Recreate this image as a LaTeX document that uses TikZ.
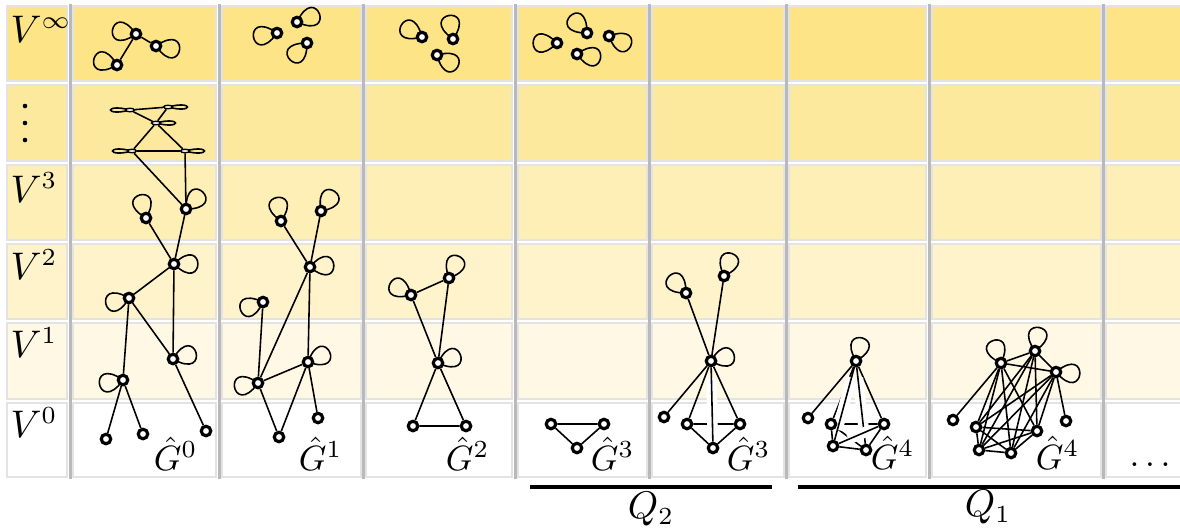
\documentclass[tikz,border=0pt]{standalone}
\usepackage{tikz}
\usetikzlibrary{
    shapes.geometric,
    positioning
}
\pgfdeclarelayer{cells}
\pgfdeclarelayer{links}
\pgfsetlayers{cells,links,main}

\definecolor{rowA}{RGB}{253,228,135}
\definecolor{rowB}{RGB}{253,233,158}
\definecolor{rowC}{RGB}{254,239,182}
\definecolor{rowD}{RGB}{254,243,202}
\definecolor{rowE}{RGB}{255,248,228}

\tikzset{
    vtx/.style={
        circle, draw, fill=white,
        line width=0.9pt, minimum size=0.95mm, inner sep=0pt
    },
    flat/.style={
        ellipse, draw, fill=white,
        line width=0.4pt, minimum width=0.9mm,
        minimum height=0.35mm, inner sep=0pt
    }
}

% lazo del vertice #1 hacia el angulo #2
\newcommand\vloop[2]{%
    \draw (#1.center) .. controls +({#2+45}:45) and +({#2-45}:45) .. (#1.center);%
}
% lazo aplanado, #2 = -1 (izquierda) o 1 (derecha)
\newcommand\flatloop[2]{%
    \draw (#1.center) .. controls +(#2*26,7) and +(#2*26,-7) .. (#1.center);%
}

\begin{document}
\begin{tikzpicture}[
    x=0.1mm, y=0.1mm,
    cell/.style={draw=gray!22, line width=0.2mm},
    sep/.style={draw=gray!55, line width=0.3mm},
    vlbl/.style={font=\fontsize{10.5}{12}\selectfont, inner sep=0pt},
    glbl/.style={inner sep=0pt, anchor=base east},
    over/.style={preaction={draw=white, line width=3pt, shorten <=3pt, shorten >=3pt}},
    bar/.style={line width=0.4mm}
]
    \useasboundingbox (0,0) rectangle (1180,-527);

    % Celdas
    \begin{pgfonlayer}{cells}
        \foreach \ya/\yb/\tint in {6/81/rowA, 85/161/rowB, 165/240/rowC,
                                   244/319/rowD, 323/399/rowE, 403/477/white}
            \foreach \xa/\xb in {7/67, 73/216, 222/361, 366/512, 518/647,
                                 652/784, 789/926, 932/1101, 1106/1200}
                \draw[cell, fill=\tint] (\xa,-\ya) rectangle (\xb,-\yb);
        \foreach \xs in {70, 219, 363.5, 515, 649.5, 786.5, 929, 1103.5}
            \draw[sep] (\xs,-4) -- (\xs,-479);
    \end{pgfonlayer}

    % Etiquetas de filas
    \node[vlbl, anchor=base west] (vinf)  at (10,-42)  {$V^{\infty}$};
    \node[vlbl, anchor=base west] (vthr)  at (10,-202) {$V^3$};
    \node[vlbl, anchor=base west] (vtwo)  at (10,-279) {$V^2$};
    \node[vlbl, anchor=base west] (vone)  at (10,-357) {$V^1$};
    \node[vlbl, anchor=base west] (vzer)  at (10,-437) {$V^0$};
    \foreach \yd in {106, 123, 140}
        \fill (25,-\yd) circle (2.3);

    % Columna G^0
    \node[vtx]  (g0p) at (136,-34)  {};
    \node[vtx]  (g0q) at (156,-46)  {};
    \node[vtx]  (g0r) at (117,-65)  {};
    \node[flat] (g0s) at (130,-110) {};
    \node[flat] (g0t) at (168,-107) {};
    \node[flat] (g0u) at (156,-123) {};
    \node[flat] (g0v) at (132,-151) {};
    \node[flat] (g0w) at (185,-151) {};
    \node[vtx]  (g0a) at (146,-218) {};
    \node[vtx]  (g0b) at (186,-209) {};
    \node[vtx]  (g0c) at (174,-264) {};
    \node[vtx]  (g0d) at (129,-298) {};
    \node[vtx]  (g0e) at (123,-380) {};
    \node[vtx]  (g0f) at (173,-359) {};
    \node[vtx]  (g0g) at (106,-439) {};
    \node[vtx]  (g0h) at (143,-434) {};
    \node[vtx]  (g0i) at (206,-431) {};

    % Columna G^1
    \node[vtx] (g1p) at (277,-33)  {};
    \node[vtx] (g1q) at (297,-22)  {};
    \node[vtx] (g1r) at (307,-43)  {};
    \node[vtx] (g1a) at (281,-221) {};
    \node[vtx] (g1b) at (321,-211) {};
    \node[vtx] (g1c) at (310,-267) {};
    \node[vtx] (g1d) at (263,-302) {};
    \node[vtx] (g1e) at (308,-362) {};
    \node[vtx] (g1f) at (258,-383) {};
    \node[vtx] (g1g) at (279,-437) {};
    \node[vtx] (g1h) at (318,-418) {};

    % Columna G^2
    \node[vtx] (g2p) at (422,-37)  {};
    \node[vtx] (g2q) at (453,-39)  {};
    \node[vtx] (g2r) at (437,-55)  {};
    \node[vtx] (g2a) at (411,-295) {};
    \node[vtx] (g2b) at (449,-278) {};
    \node[vtx] (g2c) at (438,-363) {};
    \node[vtx] (g2d) at (413,-426) {};
    \node[vtx] (g2e) at (466,-426) {};

    % Columna G^3 (Q_2)
    \node[vtx] (g3p) at (557,-43)  {};
    \node[vtx] (g3q) at (587,-33)  {};
    \node[vtx] (g3r) at (609,-36)  {};
    \node[vtx] (g3s) at (577,-54)  {};
    \node[vtx] (g3a) at (551,-424) {};
    \node[vtx] (g3b) at (604,-424) {};
    \node[vtx] (g3c) at (577,-448) {};

    \node[vtx] (h3a) at (686,-293) {};
    \node[vtx] (h3b) at (724,-276) {};
    \node[vtx] (h3c) at (711,-361) {};
    \node[vtx] (h3d) at (664,-417) {};
    \node[vtx] (h3e) at (687,-424) {};
    \node[vtx] (h3f) at (740,-424) {};
    \node[vtx] (h3g) at (713,-448) {};

    % Columna G^4 (Q_1)
    \node[vtx] (g4a) at (856,-361) {};
    \node[vtx] (g4b) at (808,-418) {};
    \node[vtx] (g4c) at (831,-424) {};
    \node[vtx] (g4d) at (884,-424) {};
    \node[vtx] (g4e) at (833,-446) {};
    \node[vtx] (g4f) at (866,-450) {};

    \node[vtx] (h4a) at (1001,-363) {};
    \node[vtx] (h4b) at (1035,-351) {};
    \node[vtx] (h4c) at (1056,-372) {};
    \node[vtx] (h4d) at (953,-420)  {};
    \node[vtx] (h4e) at (976,-427)  {};
    \node[vtx] (h4f) at (979,-450)  {};
    \node[vtx] (h4g) at (1011,-453) {};
    \node[vtx] (h4h) at (1037,-431) {};
    \node[vtx] (h4i) at (1066,-421) {};

    % Aristas y lazos
    \begin{pgfonlayer}{links}
    \begin{scope}[line width=0.45pt]
        \draw (g0p) -- (g0q) (g0p) -- (g0r);
        \draw (g0s) -- (g0t) (g0s) -- (g0u) (g0t) -- (g0u)
              (g0u) -- (g0v) (g0u) -- (g0w) (g0v) -- (g0w)
              (g0v) -- (g0b) (g0w) -- (g0b);
        \draw (g0a) -- (g0c) (g0b) -- (g0c) (g0c) -- (g0d)
              (g0d) -- (g0e) (g0d) -- (g0f) (g0c) -- (g0f)
              (g0e) -- (g0g) (g0e) -- (g0h) (g0f) -- (g0i);
        \vloop{g0p}{170} \vloop{g0q}{-10} \vloop{g0r}{165}
        \flatloop{g0s}{-1} \flatloop{g0t}{1} \flatloop{g0u}{1}
        \flatloop{g0v}{-1} \flatloop{g0w}{1}
        \vloop{g0a}{105} \vloop{g0b}{45} \vloop{g0c}{0}
        \vloop{g0d}{195} \vloop{g0e}{190} \vloop{g0f}{15}

        \draw (g1a) -- (g1c) (g1b) -- (g1c) (g1c) -- (g1f)
              (g1c) -- (g1e) (g1d) -- (g1f) (g1f) -- (g1e)
              (g1f) -- (g1g) (g1e) -- (g1g) (g1e) -- (g1h);
        \vloop{g1p}{190} \vloop{g1q}{20} \vloop{g1r}{225}
        \vloop{g1a}{100} \vloop{g1b}{55} \vloop{g1c}{5}
        \vloop{g1d}{200} \vloop{g1e}{25} \vloop{g1f}{190}

        \draw (g2a) -- (g2b) (g2a) -- (g2c) (g2b) -- (g2c)
              (g2c) -- (g2d) (g2c) -- (g2e) (g2d) -- (g2e);
        \vloop{g2p}{150} \vloop{g2q}{100} \vloop{g2r}{-30}
        \vloop{g2a}{150} \vloop{g2b}{65} \vloop{g2c}{20}

        \draw (g3a) -- (g3b) (g3a) -- (g3c) (g3b) -- (g3c);
        \vloop{g3p}{180} \vloop{g3q}{135} \vloop{g3r}{-25} \vloop{g3s}{-10}

        \draw (h3a) -- (h3c) (h3b) -- (h3c) (h3c) -- (h3d)
              (h3c) -- (h3e) (h3c) -- (h3f) (h3e) -- (h3g)
              (h3f) -- (h3g) (h3e) -- (h3f);
        \draw[over] (h3c) -- (h3g);
        \vloop{h3a}{135} \vloop{h3b}{70} \vloop{h3c}{15}

        \draw (g4a) -- (g4b) (g4a) -- (g4c) (g4a) -- (g4d)
              (g4c) -- (g4d) (g4c) -- (g4e) (g4e) -- (g4f)
              (g4f) -- (g4d) (g4c) -- (g4f);
        \draw[over] (g4a) -- (g4e);
        \draw[over] (g4a) -- (g4f);
        \draw[over] (g4e) -- (g4d);
        \vloop{g4a}{75}

        \draw (h4a) -- (h4b) (h4b) -- (h4c) (h4a) -- (h4c)
              (h4a) -- (h4d) (h4c) -- (h4i);
        \foreach \tp in {h4a, h4b, h4c}
            \foreach \bt in {h4e, h4f, h4g, h4h}
                \draw (\tp) -- (\bt);
        \draw (h4e) -- (h4f) (h4e) -- (h4g) (h4e) -- (h4h)
              (h4f) -- (h4g) (h4f) -- (h4h) (h4g) -- (h4h);
        \vloop{h4a}{110} \vloop{h4b}{80} \vloop{h4c}{-5}
    \end{scope}
    \end{pgfonlayer}

    % Nombres de los grafos
    \node[glbl] (lg0) at (198,-470)  {$\hat{G}^0$};
    \node[glbl] (lg1) at (343,-470)  {$\hat{G}^1$};
    \node[glbl] (lg2) at (490,-470)  {$\hat{G}^2$};
    \node[glbl] (lg3) at (635,-470)  {$\hat{G}^3$};
    \node[glbl] (lh3) at (771,-470)  {$\hat{G}^3$};
    \node[glbl] (lg4) at (915,-469)  {$\hat{G}^4$};
    \node[glbl] (lh4) at (1080,-469) {$\hat{G}^4$};
    \node[anchor=base, inner sep=0pt] (more) at (1150,-466) {$\dots$};

    % Grupos
    \draw[bar] (530,-487) -- (772,-487);
    \node[vlbl] (q2) at (651,-509) {$Q_2$};
    \draw[bar] (798,-487) -- (1180,-487);
    \node[vlbl] (q1) at (988,-507) {$Q_1$};

\end{tikzpicture}
\end{document}
